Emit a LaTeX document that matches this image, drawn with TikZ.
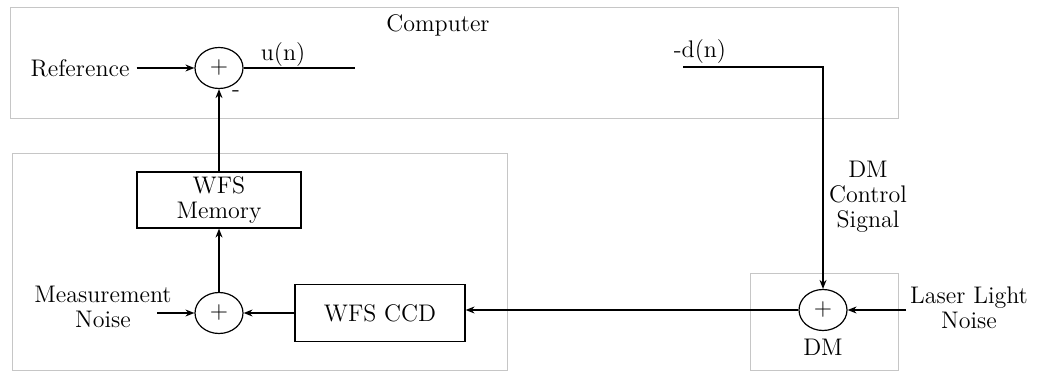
\documentclass[tikz,border=0pt]{standalone}
\usepackage{tikz}
\usetikzlibrary{shapes.geometric, arrows.meta, positioning}

\begin{document}
\begin{tikzpicture}[x=0.5pt,y=-0.5pt,line width=0.6pt,
    >={Stealth[length=4.5pt,width=3.5pt]},
    every node/.style={font=\fontsize{12}{12.5}\selectfont},
    sum/.style={draw,ellipse,minimum width=24pt,minimum height=20.5pt,inner sep=0pt},
    block/.style={draw,rectangle,align=center,inner sep=2pt},
    grpbox/.style={draw=gray!45,line width=0.4pt}]
    \useasboundingbox (0,0) rectangle (1037,373);

    % grouping boxes
    \draw[grpbox] (10,7) rectangle (898,118);
    \draw[grpbox] (12,153) rectangle (507,370);
    \draw[grpbox] (750,273) rectangle (898,370);

    \node (comp) at (438,25) {Computer};
    \node (dmlbl) at (823,347) {DM};

    % summing junctions
    \node[sum] (s1) at (219,68) {+};
    \node[sum] (s2) at (219,313) {+};
    \node[sum] (s3) at (823,310) {+};

    % blocks
    \node[block,minimum width=82pt,minimum height=28pt] (mem) at (219,200) {WFS\\Memory};
    \node[block,minimum width=85pt,minimum height=28.5pt] (ccd) at (380,313) {WFS CCD};

    % texts
    \node (ref) at (80,68) {Reference};
    \node (un) at (283,55) {u(n)};
    \node (dn) at (700,52) {-d(n)};
    \node (minus) at (236,94) {-};
    \node[align=center] (meas) at (103,307) {Measurement\\Noise};
    \node[align=center] (laser) at (969,308) {Laser Light\\Noise};
    \node[align=center] (ctrl) at (868,197) {DM\\Control\\Signal};

    \coordinate (uend) at (355,68);
    \coordinate (dstart) at (683,67);
    \coordinate (measin) at (157,313);
    \coordinate (laserin) at (906,310);

    \draw[->] (ref) -- (s1);
    \draw (s1) -- (uend);
    \draw[->] (mem) -- (s1);
    \draw[->] (s2) -- (mem);
    \draw[->] (measin) -- (s2);
    \draw[->] (ccd) -- (s2);
    \draw[->] (s3.west) -- (ccd.east |- s3.west);
    \draw[->] (dstart) -| (s3);
    \draw[->] (laserin) -- (s3);
\end{tikzpicture}
\end{document}
